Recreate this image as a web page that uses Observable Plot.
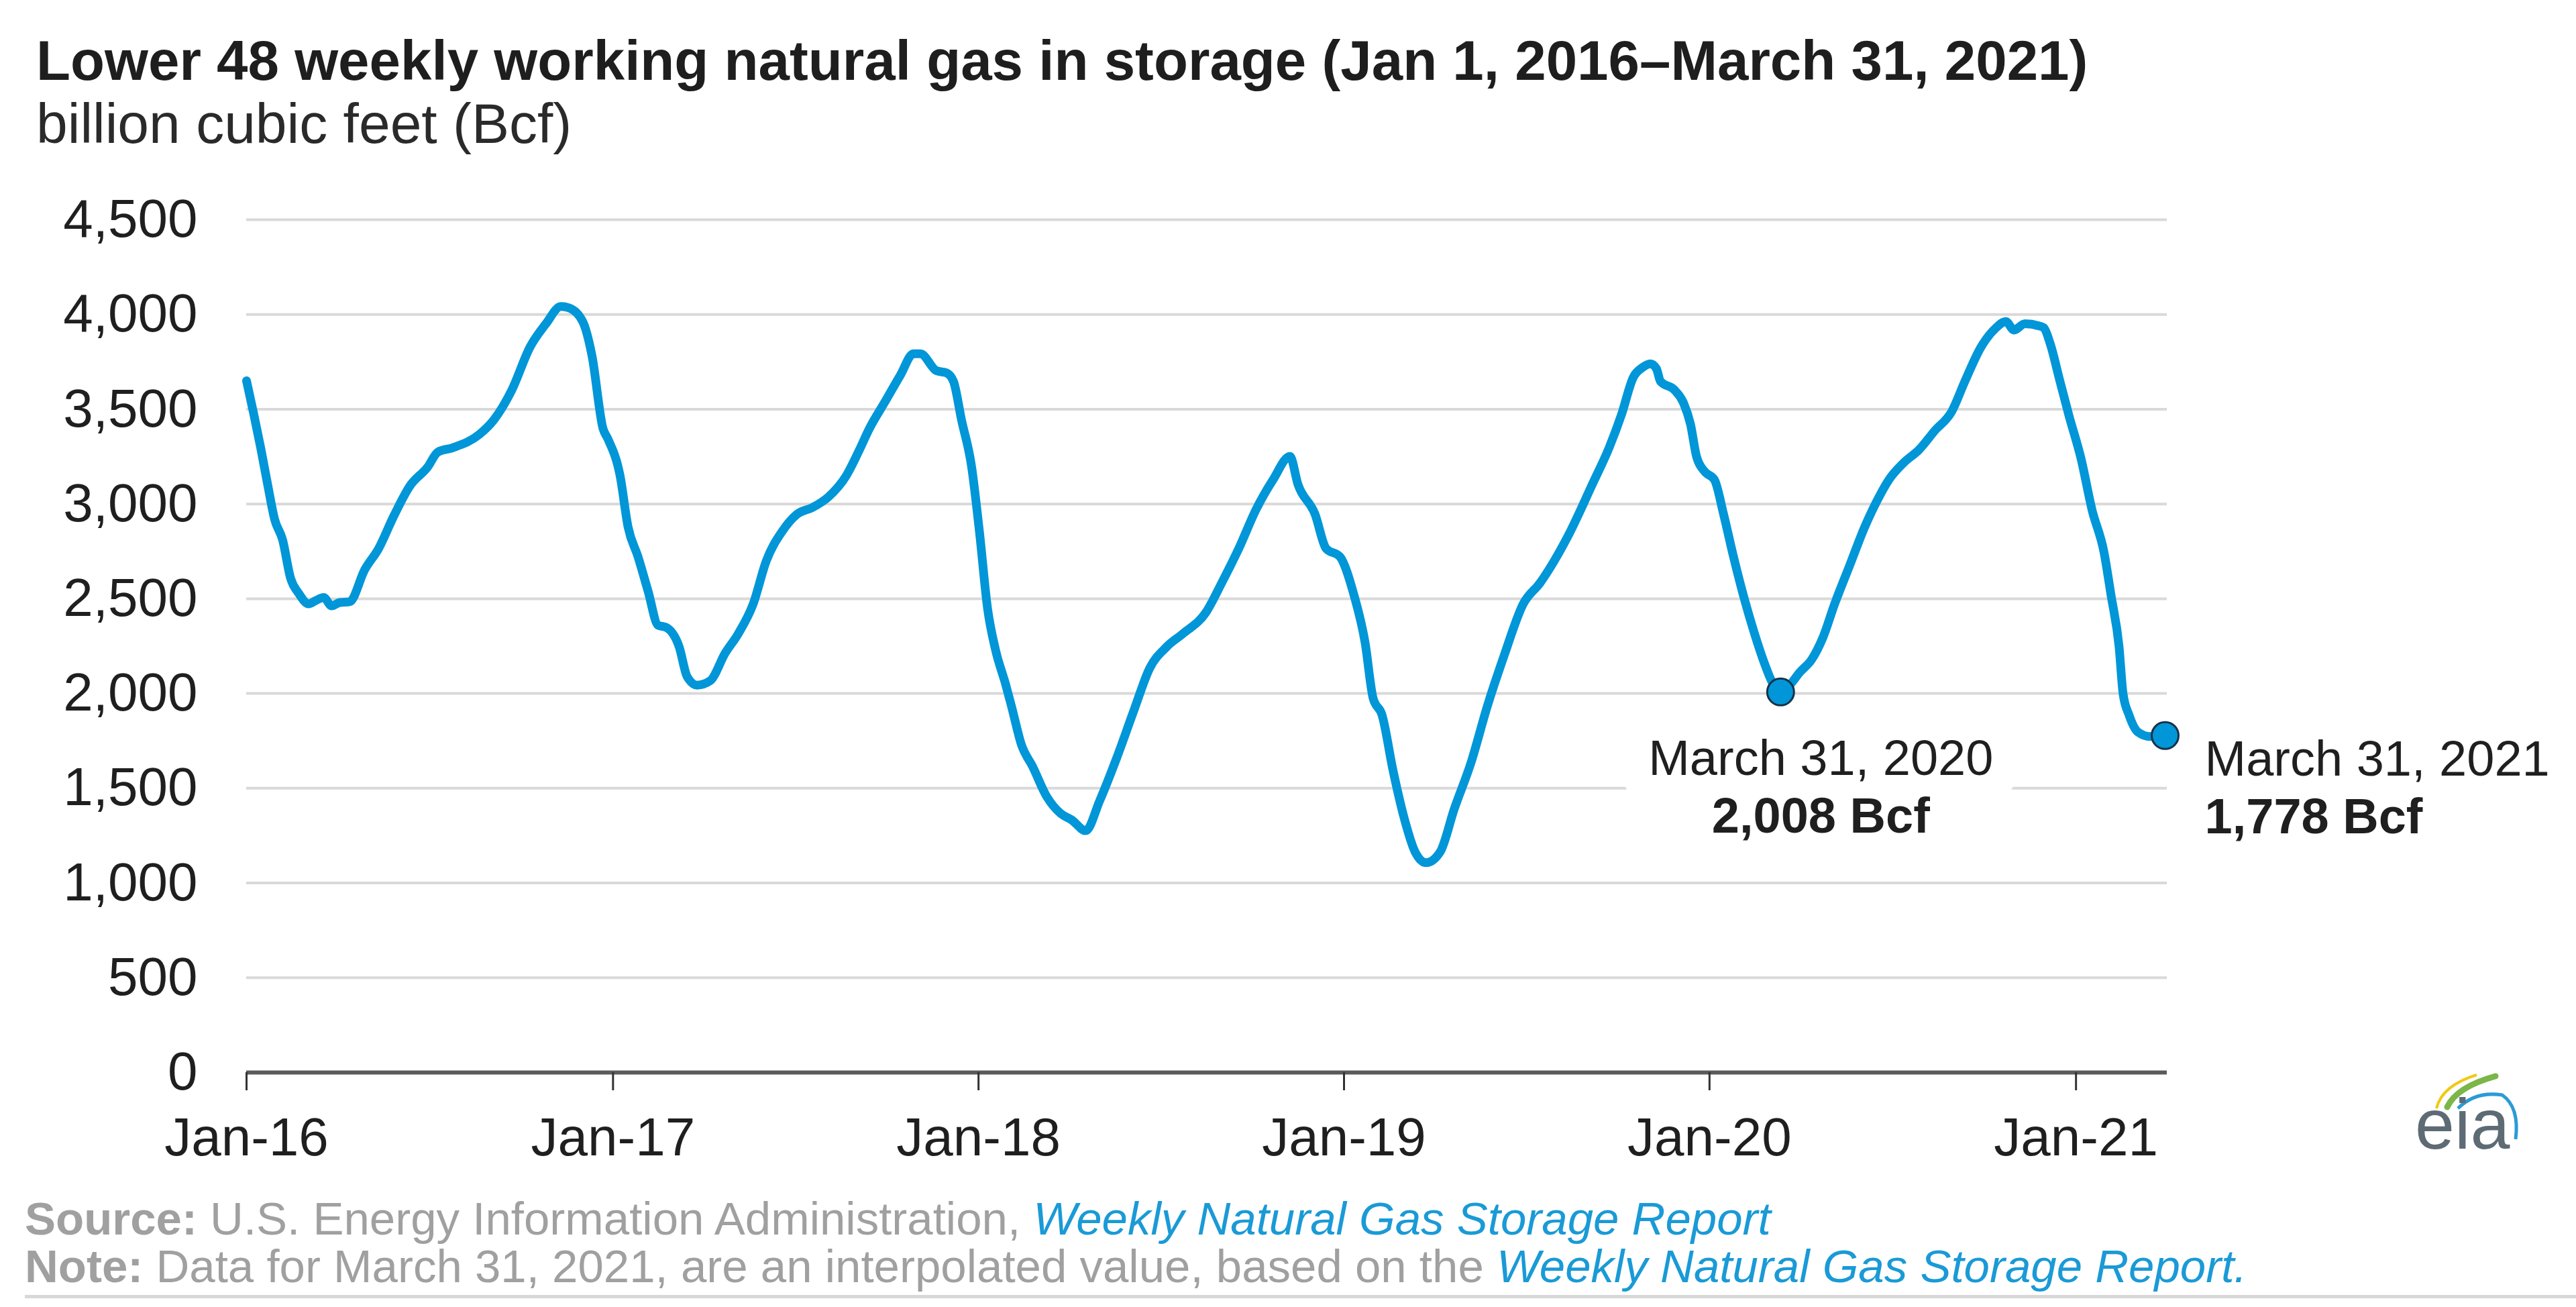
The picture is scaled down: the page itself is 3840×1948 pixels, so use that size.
<!DOCTYPE html>
<html>
<head>
<meta charset="utf-8">
<script src="https://cdn.jsdelivr.net/npm/d3@7"></script>
<script src="https://cdn.jsdelivr.net/npm/@observablehq/plot@0.6"></script>
<style>
html, body { margin: 0; padding: 0; background: #fff; }
body { width: 3840px; height: 1948px; position: relative; overflow: hidden;
       font-family: "Liberation Sans", Arial, sans-serif; }
.abs { position: absolute; white-space: nowrap; line-height: 1; }
#title { left: 54px; top: 49px; font-size: 83.5px; font-weight: bold; color: #1e1e1e; }
#subtitle { left: 54px; top: 142px; font-size: 84px; color: #2a2a2a; }
#chart { position: absolute; left: 0; top: 250px; }
.foot { left: 37px; font-size: 69px; color: #a0a0a0; }
.foot b { font-weight: bold; }
.foot i { color: #1a9ad6; }
#source { top: 1782px; }
#note { top: 1853px; }
#rule { position: absolute; left: 37px; right: 0; top: 1930px; height: 5px; background: #d8d8d8; }
#logo { position: absolute; left: 3570px; top: 1570px; overflow: visible; }
</style>
</head>
<body>
<div id="title" class="abs">Lower 48 weekly working natural gas in storage (Jan 1, 2016–March 31, 2021)</div>
<div id="subtitle" class="abs">billion cubic feet (Bcf)</div>
<div id="chart"></div>
<div id="source" class="abs foot"><b>Source:</b> U.S. Energy Information Administration, <i>Weekly Natural Gas Storage Report</i></div>
<div id="note" class="abs foot"><b>Note:</b> Data for March 31, 2021, are an interpolated value, based on the <i>Weekly Natural Gas Storage Report.</i></div>
<div id="rule"></div>
<svg id="logo" width="240" height="180" viewBox="0 0 240 180">
  <path d="M62 82 Q70 48 122 32" fill="none" stroke="#f2c811" stroke-width="4"/>
  <path d="M78 80 Q92 50 150 34" fill="none" stroke="#7ab648" stroke-width="9" stroke-linecap="round"/>
  <path d="M94 82 Q120 56 160 62 Q186 80 180 128" fill="none" stroke="#2b9bd6" stroke-width="5"/>
  <text x="30" y="142" font-family="Liberation Sans, Arial, sans-serif" font-size="106" fill="#5d6b75">eia</text>
</svg>
<script>
// ---- data ----
const dates = [
  "2016-01-01","2016-01-08","2016-01-15","2016-01-22","2016-01-29","2016-02-06","2016-02-14","2016-02-22",
  "2016-03-03","2016-03-10","2016-03-18","2016-03-26","2016-04-03","2016-04-13","2016-04-28","2016-05-12",
  "2016-05-27","2016-06-12","2016-06-30","2016-07-10","2016-07-25","2016-08-20","2016-09-04","2016-09-22",
  "2016-10-10","2016-10-26","2016-11-10","2016-11-18","2016-12-02","2016-12-11","2016-12-22","2016-12-27",
  "2017-01-08","2017-01-16","2017-01-26","2017-02-05","2017-02-15","2017-02-23","2017-03-08","2017-03-16",
  "2017-03-26","2017-04-08","2017-04-23","2017-05-06","2017-05-21","2017-06-03","2017-06-19","2017-07-04",
  "2017-07-19","2017-08-04","2017-08-22","2017-09-04","2017-09-14","2017-09-29","2017-10-15","2017-10-28",
  "2017-11-04","2017-11-20","2017-11-30","2017-12-07","2017-12-15","2017-12-25",
  "2018-01-02","2018-01-10","2018-01-18","2018-01-28","2018-02-03","2018-02-13","2018-02-24","2018-03-10",
  "2018-03-24","2018-04-04","2018-04-18","2018-05-02","2018-05-19","2018-06-05","2018-06-21","2018-07-08",
  "2018-07-24","2018-08-16","2018-09-01","2018-09-18","2018-10-05","2018-10-22","2018-11-08","2018-11-16",
  "2018-12-03","2018-12-14","2018-12-28",
  "2019-01-11","2019-01-22","2019-01-30","2019-02-08","2019-02-19","2019-03-02","2019-03-13","2019-03-24",
  "2019-04-07","2019-04-21","2019-05-08","2019-05-24","2019-06-10","2019-06-29","2019-07-16","2019-08-13",
  "2019-09-06","2019-09-23","2019-10-05","2019-10-17","2019-10-26","2019-11-03","2019-11-09","2019-11-13",
  "2019-11-27","2019-12-06","2019-12-13","2019-12-19","2019-12-27",
  "2020-01-06","2020-01-15","2020-01-25","2020-02-05","2020-02-15","2020-02-25","2020-03-04","2020-03-12",
  "2020-03-21","2020-03-31","2020-04-12","2020-04-23","2020-05-05","2020-05-20","2020-06-04","2020-06-16",
  "2020-06-28","2020-07-13","2020-07-28","2020-08-13","2020-08-30","2020-09-12","2020-09-28","2020-10-13",
  "2020-10-23","2020-10-31","2020-11-11","2020-11-25","2020-11-30","2020-12-06","2020-12-16","2020-12-25",
  "2021-01-06","2021-01-17","2021-01-29","2021-02-05","2021-02-13","2021-02-17","2021-02-23","2021-03-04",
  "2021-03-16","2021-03-31"
];
const storage = [
  3650,3480,3300,3105,2920,2811,2608,2529,
  2473,2490,2507,2462,2480,2484,2653,2766,
  2936,3094,3196,3274,3297,3365,3444,3602,
  3827,3951,4042,4035,3960,3782,3398,3342,
  3150,2879,2721,2540,2360,2349,2247,2089,
  2044,2067,2213,2315,2473,2699,2856,2947,
  2981,3037,3150,3285,3398,3534,3680,3793,
  3793,3703,3692,3647,3444,3200,
  2850,2450,2230,2050,1931,1727,1615,1457,
  1367,1333,1276,1434,1660,1908,2134,2247,
  2315,2427,2585,2766,2969,3127,3251,3104,
  2947,2766,2721,
  2518,2270,1976,1886,1593,1344,1164,1107,
  1164,1389,1638,1931,2202,2473,2585,2834,
  3104,3300,3470,3670,3720,3740,3714,3647,
  3602,3534,3421,3251,3172,
  3127,2947,2721,2495,2315,2157,2055,2008,
  2044,2111,2179,2292,2473,2676,2879,3014,
  3127,3218,3285,3387,3489,3647,3827,3929,
  3963,3918,3951,3940,3929,3850,3647,3466,
  3240,2969,2744,2518,2247,1999,1886,1796,
  1773,1778
];
const yTicks = [0, 500, 1000, 1500, 2000, 2500, 3000, 3500, 4000, 4500];
const xTickDates = ["2016-01-01","2017-01-01","2018-01-01","2019-01-01","2020-01-01","2021-01-01"];
const xTickLabels = ["Jan-16","Jan-17","Jan-18","Jan-19","Jan-20","Jan-21"];
const xDomain = ["2016-01-01","2021-04-02"];
const markerDates = ["2020-03-12","2021-03-31"];
const markerValues = [2008, 1778];
const markerDateLabels = ["March 31, 2020","March 31, 2021"];
const markerValueLabels = ["2,008 Bcf","1,778 Bcf"];

// ---- build tables ----
const parse = d3.utcParse("%Y-%m-%d");
const series = dates.map((d, i) => ({date: parse(d), value: storage[i]}));
const markers = markerDates.map((d, i) => ({
  date: parse(d), value: markerValues[i], dl: markerDateLabels[i], vl: markerValueLabels[i]
}));
const tickDates = xTickDates.map(parse);
const tickLabelOf = new Map(tickDates.map((d, i) => [+d, xTickLabels[i]]));
const m2020 = markers.slice(0, 1);
const m2021 = markers.slice(1, 2);

const font = '"Liberation Sans", Arial, sans-serif';
const ink = "#1f1f1f";

const chart = Plot.plot({
  width: 3840,
  height: 1560,
  marginLeft: 367,
  marginRight: 610,
  marginTop: 77,
  marginBottom: 212,
  style: {fontFamily: font, fontSize: "80px", color: ink, background: "transparent", overflow: "visible"},
  x: {type: "utc", domain: xDomain.map(parse)},
  y: {domain: [0, 4500]},
  marks: [
    Plot.ruleY(yTicks.filter(d => d > 0), {stroke: "#d9d9d9", strokeWidth: 4}),
    // white box behind the 2020 annotation (cuts the gridline)
    Plot.text(m2020, {x: "date", y: "value", text: "dl", dx: 60, dy: 124, lineAnchor: "bottom",
      textAnchor: "middle", fontSize: 74, fill: "white", stroke: "white", strokeWidth: 88, paintOrder: "stroke"}),
    Plot.text(m2020, {x: "date", y: "value", text: "vl", dx: 60, dy: 210, lineAnchor: "bottom",
      textAnchor: "middle", fontSize: 74, fontWeight: "bold", fill: "white", stroke: "white", strokeWidth: 40, paintOrder: "stroke"}),
    Plot.axisY({ticks: yTicks, tickSize: 0, tickPadding: 73, tickFormat: d3.format(","), label: null, fontSize: 80}),
    Plot.ruleY([0], {stroke: "#5a5a5a", strokeWidth: 6}),
    Plot.axisX({ticks: tickDates, tickSize: 27, tickPadding: 40, tickFormat: d => tickLabelOf.get(+d),
      label: null, fontSize: 80, stroke: "#333", strokeWidth: 3}),
    Plot.line(series, {x: "date", y: "value", stroke: "#0096d7", strokeWidth: 13,
      curve: "monotone-x", strokeLinejoin: "round", strokeLinecap: "round"}),
    Plot.dot(markers, {x: "date", y: "value", r: 20, fill: "#0096d7", stroke: "#16324a", strokeWidth: 3}),
    Plot.text(m2020, {x: "date", y: "value", text: "dl", dx: 60, dy: 124, lineAnchor: "bottom",
      textAnchor: "middle", fontSize: 74, fill: ink}),
    Plot.text(m2020, {x: "date", y: "value", text: "vl", dx: 60, dy: 210, lineAnchor: "bottom",
      textAnchor: "middle", fontSize: 74, fontWeight: "bold", fill: ink}),
    Plot.text(m2021, {x: "date", y: "value", text: "dl", dx: 59, dy: 60, lineAnchor: "bottom",
      textAnchor: "start", fontSize: 74, fill: ink}),
    Plot.text(m2021, {x: "date", y: "value", text: "vl", dx: 59, dy: 146, lineAnchor: "bottom",
      textAnchor: "start", fontSize: 74, fontWeight: "bold", fill: ink})
  ]
});
document.getElementById("chart").appendChild(chart);
</script>
</body>
</html>
